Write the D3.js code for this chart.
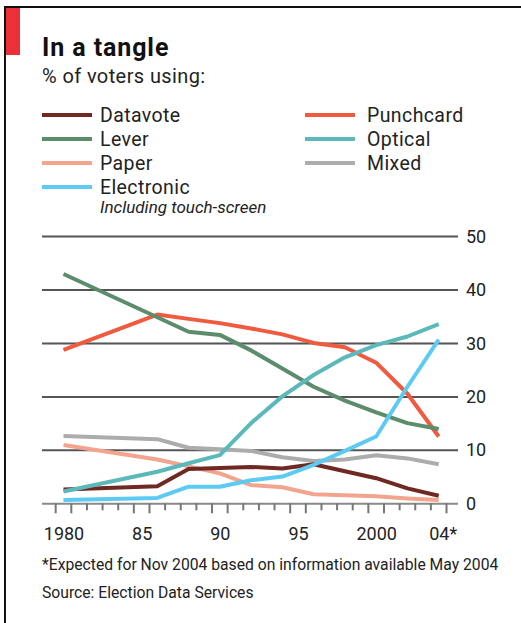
<!DOCTYPE html>
<html>
<head>
<meta charset="utf-8">
<script src="https://cdn.jsdelivr.net/npm/d3@7"></script>
<style>
  html, body { margin: 0; padding: 0; background: #fff; }
  svg { display: block; font-family: Roboto, "Open Sans", sans-serif; }
</style>
</head>
<body>
<div id="chart"></div>
<script>
// years on the x axis
var years = [1980, 1986, 1988, 1990, 1992, 1994, 1996, 1998, 2000, 2002, 2004];

// % of voters using each method
var datavote   = [2.6, 3.2, 6.4, 6.6, 6.8, 6.5, 7.3, 6.0, 4.7, 2.8, 1.4];
var lever      = [42.9, 34.8, 32.1, 31.5, 28.6, 25.2, 21.8, 19.2, 17.0, 15.0, 13.9];
var paper      = [10.9, 8.2, 6.9, 5.6, 3.4, 3.0, 1.7, 1.5, 1.3, 0.9, 0.6];
var electronic = [0.6, 1.0, 3.1, 3.1, 4.3, 5.0, 7.2, 9.8, 12.5, 21.8, 30.6];
var punchcard  = [28.7, 35.3, 34.5, 33.7, 32.7, 31.6, 30.0, 29.2, 26.3, 20.5, 12.5];
var optical    = [2.2, 5.9, 7.5, 9.0, 15.0, 20.0, 24.0, 27.3, 29.6, 31.2, 33.5];
var mixed      = [12.6, 12.0, 10.4, 10.1, 9.8, 8.6, 7.9, 8.2, 9.0, 8.4, 7.3];

var yTicks = [0, 10, 20, 30, 40, 50];
var xLabels = [1980, 1985, 1990, 1995, 2000, 2004];
var xLabelText = ['1980', '85', '90', '95', '2000', '04*'];

var series = [
    { name: 'Mixed', values: mixed, color: '#acacac' },
    { name: 'Paper', values: paper, color: '#f2a48e' },
    { name: 'Datavote', values: datavote, color: '#6e2a22' },
    { name: 'Punchcard', values: punchcard, color: '#f05a3e' },
    { name: 'Lever', values: lever, color: '#5b8c6c' },
    { name: 'Optical', values: optical, color: '#5cb9b9' },
    { name: 'Electronic', values: electronic, color: '#5ccaf2' }
];
var legendLeft = ['Datavote', 'Lever', 'Paper', 'Electronic'];
var legendRight = ['Punchcard', 'Optical', 'Mixed'];

var W = 521, H = 623;
var svg = d3.select('#chart').append('svg').attr('width', W).attr('height', H);

function colorOf(name) {
    for (var i = 0; i < series.length; i++) {
        if (series[i].name == name) return series[i].color;
    }
}

// frame + red tag
svg.append('rect').attr('x', 4).attr('y', 6).attr('width', W).attr('height', 2).attr('fill', '#111');
svg.append('rect').attr('x', 4).attr('y', 6).attr('width', 2).attr('height', H).attr('fill', '#111');
svg.append('rect').attr('x', 6).attr('y', 8).attr('width', 14).attr('height', 47).attr('fill', '#ec3038');

// titles
svg.append('text').attr('x', 42).attr('y', 56)
    .attr('font-size', 25).attr('font-weight', 'bold').attr('fill', '#111')
    .attr('letter-spacing', 0.9)
    .text('In a tangle');
svg.append('text').attr('x', 42).attr('y', 83)
    .attr('font-size', 20).attr('fill', '#222').attr('letter-spacing', 0.4)
    .text('% of voters using:');

// legend
function renderLegend(names, lineX, textX) {
    var g = svg.append('g');
    names.forEach(function (n, i) {
        var cy = 115 + i * 24;
        g.append('line')
            .attr('x1', lineX).attr('x2', lineX + 50)
            .attr('y1', cy).attr('y2', cy)
            .attr('stroke', colorOf(n)).attr('stroke-width', 4);
        g.append('text').attr('x', textX).attr('y', cy + 7)
            .attr('font-size', 19.5).attr('fill', '#222').attr('letter-spacing', 0.4)
            .text(n);
    });
}
renderLegend(legendLeft, 42, 100);
renderLegend(legendRight, 305, 367);
svg.append('text').attr('x', 100).attr('y', 213)
    .attr('font-size', 17).attr('font-style', 'italic').attr('fill', '#222')
    .text('Including touch-screen');

// scales
var x = d3.scaleLinear().domain([1980, 2004]).range([63.5, 438.7]);
var y = d3.scaleLinear().domain([0, 50]).range([503.3, 236]);
var gridLeft = 42, gridRight = 458;

// gridlines + right labels
var yAxis = d3.axisRight(y).tickValues(yTicks).tickSize(-(gridRight - gridLeft)).tickPadding(8);
var yg = svg.append('g').attr('transform', 'translate(' + gridRight + ',0)').call(yAxis);
yg.select('.domain').remove();
yg.selectAll('.tick line').attr('stroke', '#555').attr('stroke-width', 2);
yg.selectAll('.tick').filter(function (d) { return d == 0; }).select('line').attr('stroke', '#8a8a8a');
yg.selectAll('.tick text').attr('font-size', 18).attr('fill', '#222')
    .attr('font-family', 'Roboto, sans-serif').attr('dy', '0.34em');

// year boundary ticks
var bounds = d3.range(1979.5, 2005, 1);
var longTicks = [1979.5, 1980.5, 1984.5, 1985.5, 1989.5, 1990.5, 1994.5, 1995.5, 1999.5, 2000.5, 2004.5];
svg.append('g').selectAll('line').data(bounds).enter().append('line')
    .attr('x1', function (d) { return x(d); })
    .attr('x2', function (d) { return x(d); })
    .attr('y1', y(0))
    .attr('y2', function (d) { return y(0) + (longTicks.indexOf(d) > -1 ? 10 : 7); })
    .attr('stroke', '#777').attr('stroke-width', 2);

// x labels
var xAxis = d3.axisBottom(x).tickValues(xLabels).tickSize(0).tickPadding(0)
    .tickFormat(function (d, i) { return xLabelText[i]; });
var xg = svg.append('g').attr('transform', 'translate(0,' + y(0) + ')').call(xAxis);
xg.select('.domain').remove();
xg.selectAll('.tick text').attr('font-size', 18).attr('fill', '#222')
    .attr('font-family', 'Roboto, sans-serif').attr('dy', 0).attr('y', 37)
    .attr('text-anchor', function (d) { return d == 2004 ? 'start' : 'middle'; })
    .attr('dx', function (d) { return d == 2004 ? -10 : 0; });

// the lines
var line = d3.line()
    .x(function (d, i) { return x(years[i]); })
    .y(function (d) { return y(d); });
svg.append('g').selectAll('path').data(series).enter().append('path')
    .attr('d', function (s) { return line(s.values); })
    .attr('fill', 'none')
    .attr('stroke', function (s) { return s.color; })
    .attr('stroke-width', 4)
    .attr('stroke-linejoin', 'round');

// footnotes
svg.append('text').attr('x', 42).attr('y', 570)
    .attr('font-size', 15.7).attr('fill', '#222')
    .text('*Expected for Nov 2004 based on information available May 2004');
svg.append('text').attr('x', 42).attr('y', 598)
    .attr('font-size', 15.7).attr('fill', '#222')
    .text('Source: Election Data Services');
</script>
</body>
</html>
